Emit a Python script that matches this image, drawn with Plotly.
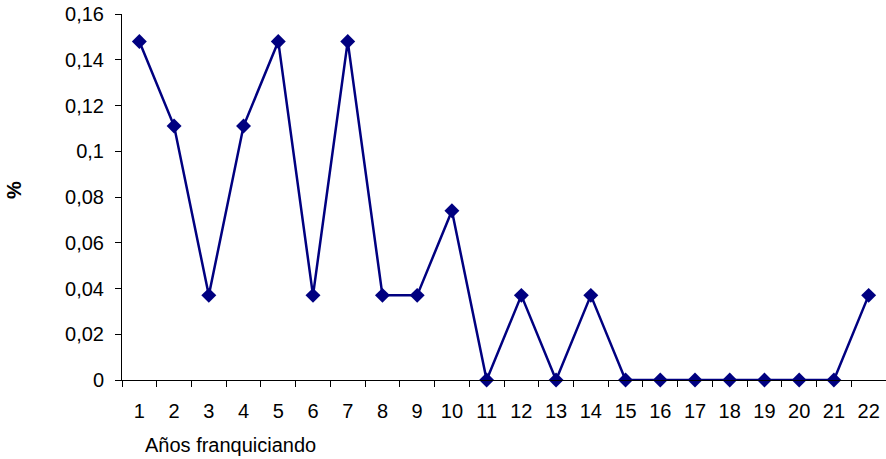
import plotly.graph_objects as go

# Years of franchising (categories) and share of cases
years = [str(i) for i in range(1, 23)]
share = [0.148, 0.111, 0.037, 0.111, 0.148, 0.037, 0.148, 0.037, 0.037, 0.074, 0.0,
         0.037, 0.0, 0.037, 0.0, 0.0, 0.0, 0.0, 0.0, 0.0, 0.0, 0.037]
y_ticks = [0, 0.02, 0.04, 0.06, 0.08, 0.1, 0.12, 0.14, 0.16]

navy = "#000080"
font_family = "Liberation Sans, Arial, sans-serif"
text_size = 20

fig = go.Figure(
    go.Scatter(
        x=years,
        y=share,
        mode="lines+markers",
        line=dict(color=navy, width=2.5),
        marker=dict(symbol="diamond", size=11.5, color=navy),
        cliponaxis=False,
    )
)

fig.update_layout(
    width=886,
    height=459,
    margin=dict(l=122, r=0, t=14, b=79),
    paper_bgcolor="white",
    plot_bgcolor="white",
    showlegend=False,
    separators=",.",
    font=dict(family=font_family, size=text_size, color="black"),
    xaxis=dict(
        type="category",
        range=[-0.5, 21.5],
        showgrid=False,
        zeroline=False,
        showline=True,
        linecolor="black",
        linewidth=1,
        ticks="outside",
        tickson="boundaries",
        ticklen=6,
        tickcolor="black",
        ticklabelstandoff=13,
    ),
    yaxis=dict(
        range=[0, 0.16],
        tickvals=y_ticks,
        showgrid=False,
        zeroline=False,
        showline=True,
        linecolor="black",
        linewidth=1,
        ticks="outside",
        ticklen=6,
        tickcolor="black",
        ticklabelstandoff=7,
    ),
    annotations=[
        dict(
            text="Años franquiciando",
            xref="paper", yref="paper",
            x=(143 - 122) / 764, y=-(445 - 380) / 366,
            xanchor="left", yanchor="middle",
            showarrow=False,
            font=dict(size=text_size),
        ),
        dict(
            text="<b>%</b>",
            xref="paper", yref="paper",
            x=-(122 - 14) / 764, y=(380 - 190) / 366,
            xanchor="center", yanchor="middle",
            textangle=-90,
            showarrow=False,
            font=dict(size=text_size),
        ),
    ],
)

fig.write_html("out.html")
